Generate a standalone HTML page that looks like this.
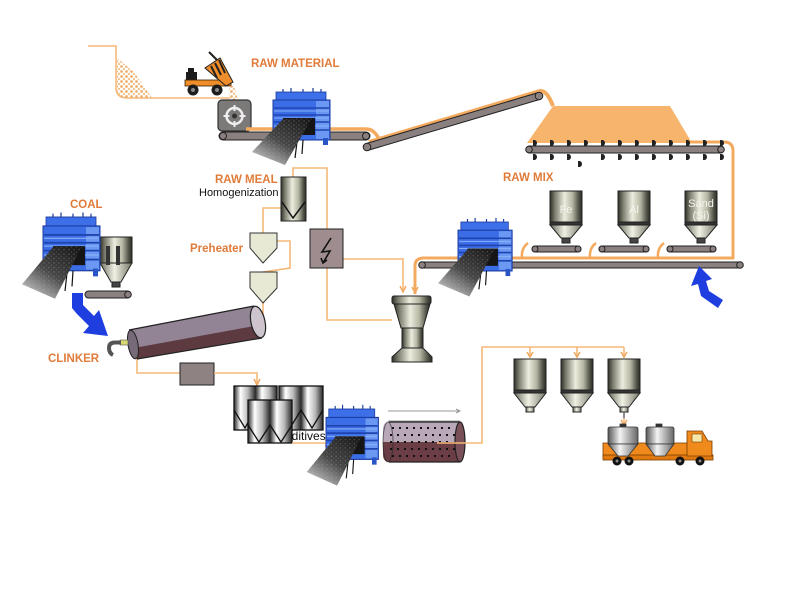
<!DOCTYPE html>
<html><head><meta charset="utf-8"><style>
html,body{margin:0;padding:0;background:#fff;}
svg{display:block;}
text{font-family:"Liberation Sans",Arial,sans-serif;}
.lbl{font-weight:bold;fill:#e07b39;font-size:11.5px;}
.ol{fill:none;stroke:#f6b878;stroke-width:1.6;}
.ar{fill:none;stroke:#f0a860;stroke-width:1.5;}
</style></head><body>
<svg width="800" height="600" viewBox="0 0 800 600" xmlns="http://www.w3.org/2000/svg">
<defs>
 <linearGradient id="metal" x1="0" x2="1" y1="0" y2="0">
  <stop offset="0" stop-color="#2e2f28"/>
  <stop offset="0.15" stop-color="#7a7b6c"/>
  <stop offset="0.45" stop-color="#ecedde"/>
  <stop offset="0.7" stop-color="#b5b6a3"/>
  <stop offset="0.9" stop-color="#505146"/>
  <stop offset="1" stop-color="#2a2b25"/>
 </linearGradient>
 <linearGradient id="cone" x1="0" x2="1">
  <stop offset="0" stop-color="#6a6b5e"/>
  <stop offset="0.45" stop-color="#f0f1e4"/>
  <stop offset="1" stop-color="#77786a"/>
 </linearGradient>
 <linearGradient id="metal2" x1="0" x2="0.5" y1="0" y2="0" spreadMethod="repeat">
  <stop offset="0" stop-color="#2a2a2a"/>
  <stop offset="0.3" stop-color="#ffffff"/>
  <stop offset="0.65" stop-color="#b8b8b8"/>
  <stop offset="1" stop-color="#2a2a2a"/>
 </linearGradient>
 <linearGradient id="tank" x1="0" x2="1">
  <stop offset="0" stop-color="#555"/>
  <stop offset="0.4" stop-color="#f4f4f4"/>
  <stop offset="1" stop-color="#666"/>
 </linearGradient>
 <linearGradient id="belt" x1="0.85" y1="0" x2="0.1" y2="1">
  <stop offset="0" stop-color="#1a1a1a"/>
  <stop offset="0.5" stop-color="#474747"/>
  <stop offset="1" stop-color="#d5d5d5"/>
 </linearGradient>
 <pattern id="speck" width="5" height="4" patternUnits="userSpaceOnUse">
  <circle cx="1" cy="1" r="0.7" fill="#aaa"/>
  <circle cx="3.5" cy="3" r="0.6" fill="#888"/>
 </pattern>
 <pattern id="sand" width="5" height="5" patternUnits="userSpaceOnUse">
  <circle cx="1.5" cy="1.5" r="1.4" fill="#eeb070"/>
  <circle cx="4" cy="4" r="1.2" fill="#f3c48e"/>
 </pattern>
 <g id="bm">
  <path d="M10,0 v-3 M18,0 v-4 M30,0 v-3 M40,0 v-4 M48,0 v-3" stroke="#1b3a9e" stroke-width="1.2"/>
  <rect x="3" y="0" width="50" height="9" fill="#3d6fe8" stroke="#1b3a9e" stroke-width="0.8"/>
  <rect x="0" y="8" width="57" height="40" fill="#3a6de6" stroke="#1b3a9e" stroke-width="1"/>
  <rect x="43" y="9" width="13" height="38" fill="#6a98f2"/>
  <path d="M1,16 H56 M1,23 H56 M1,30 H56 M1,38 H56" stroke="#1f44b0" stroke-width="1.6"/>
  <path d="M1,19 H56 M1,26 H56 M1,34 H56" stroke="#8aaff7" stroke-width="1"/>
  <rect x="10" y="26" width="32" height="17" fill="#151515"/>
  <rect x="0" y="46" width="4" height="7" fill="#2a55c8"/>
  <rect x="50" y="46" width="5" height="7" fill="#2a55c8"/>
  <path d="M24,50 l-2,16 M30,48 l-1,14" stroke="#111" stroke-width="1.2"/>
  <polygon points="10,27 39,26 12,73 -21,60" fill="url(#belt)"/>
  <polygon points="10,27 39,26 12,73 -21,60" fill="url(#speck)" opacity="0.4"/>
 </g>
</defs>

<!-- ===== RAW MATERIAL ===== -->
<path class="ol" d="M88,46 H116 V88 Q116,98 128,98 H230"/>
<polygon points="117,58 117,94 122,98 152,98 134,72" fill="url(#sand)"/>
<!-- truck -->
<rect x="186" y="72" width="11" height="9" fill="#1c1c1c"/>
<rect x="188" y="68" width="6" height="4" fill="#1c1c1c"/>
<rect x="185" y="80" width="46" height="6" fill="#ef8d2a" stroke="#3a2000" stroke-width="0.8"/>
<polygon points="205,68 220,58 233,82 226,86" fill="#ef8d2a" stroke="#222" stroke-width="1"/>
<path d="M211,66 l6,12 M215,63 l6,12 M219,60 l6,13" stroke="#222" stroke-width="2"/>
<path d="M209,52 L217,60" stroke="#222" stroke-width="2"/>
<circle cx="193" cy="90" r="5.5" fill="#1c1c1c"/><circle cx="193" cy="90" r="2" fill="#888"/>
<circle cx="217" cy="90" r="5.5" fill="#1c1c1c"/><circle cx="217" cy="90" r="2" fill="#888"/>
<polygon points="229,86 234,86 238,100 230,100" fill="url(#sand)"/>
<!-- crusher -->
<rect x="218" y="100" width="33" height="31" rx="4" fill="#7c7979" stroke="#333" stroke-width="1.2"/>
<circle cx="234.5" cy="116" r="8" fill="none" stroke="#eee" stroke-width="2.5"/>
<path d="M234.5,105 v6 M234.5,121 v6 M223.5,116 h6 M239.5,116 h6" stroke="#eee" stroke-width="2"/>
<circle cx="234.5" cy="116" r="2.5" fill="#333"/>
<!-- conveyor 1 -->
<path d="M246,129 H366 Q374,129 379,139" stroke="#f4aa5e" stroke-width="3.5" fill="none"/>
<rect x="219" y="132" width="151" height="8" rx="4" fill="#8a8080" stroke="#222" stroke-width="1"/>
<circle cx="223" cy="136" r="3.5" fill="#8a8080" stroke="#222"/>
<circle cx="366" cy="136" r="3.5" fill="#8a8080" stroke="#222"/>
<use href="#bm" transform="translate(273,92)"/>
<text class="lbl" x="251" y="67">RAW MATERIAL</text>

<!-- inclined conveyor -->
<path d="M369,142 L540,91 Q547,90 553,106" stroke="#f4aa5e" stroke-width="4" fill="none"/>
<line x1="367" y1="147" x2="539" y2="96" stroke="#222" stroke-width="8" stroke-linecap="round"/>
<line x1="367" y1="147" x2="539" y2="96" stroke="#8a8080" stroke-width="6" stroke-linecap="round"/>
<circle cx="367" cy="147" r="3.8" fill="#8a8080" stroke="#222"/>
<circle cx="539" cy="96" r="3.8" fill="#8a8080" stroke="#222"/>

<!-- pile + reclaimer -->
<polygon points="553,106 670,106 692,143 527,143" fill="#f6b46c"/>
<path d="M688,142 H724 Q733,142 733,151 V259" stroke="#f4aa5e" stroke-width="3" fill="none"/>
<rect x="526" y="146" width="198" height="7" rx="3.5" fill="#8a8080" stroke="#222" stroke-width="1"/>
<circle cx="529" cy="149.5" r="3.3" fill="#8a8080" stroke="#222"/>
<circle cx="721" cy="149.5" r="3.3" fill="#8a8080" stroke="#222"/>
<g fill="#222">
 <path d="M533,140 h1.5 a2.5,3 0 0 1 0,6 h-1.5z M550,140 h1.5 a2.5,3 0 0 1 0,6 h-1.5z M567,140 h1.5 a2.5,3 0 0 1 0,6 h-1.5z M584,140 h1.5 a2.5,3 0 0 1 0,6 h-1.5z M601,140 h1.5 a2.5,3 0 0 1 0,6 h-1.5z M618,140 h1.5 a2.5,3 0 0 1 0,6 h-1.5z M635,140 h1.5 a2.5,3 0 0 1 0,6 h-1.5z M652,140 h1.5 a2.5,3 0 0 1 0,6 h-1.5z M669,140 h1.5 a2.5,3 0 0 1 0,6 h-1.5z M686,140 h1.5 a2.5,3 0 0 1 0,6 h-1.5z M703,140 h1.5 a2.5,3 0 0 1 0,6 h-1.5z M720,140 h1.5 a2.5,3 0 0 1 0,6 h-1.5z"/>
 <path d="M533,154 h1.5 a2.5,3 0 0 1 0,6 h-1.5z M550,154 h1.5 a2.5,3 0 0 1 0,6 h-1.5z M567,154 h1.5 a2.5,3 0 0 1 0,6 h-1.5z M578,161 h1.5 a2.5,3 0 0 1 0,6 h-1.5z M601,154 h1.5 a2.5,3 0 0 1 0,6 h-1.5z M618,154 h1.5 a2.5,3 0 0 1 0,6 h-1.5z M635,154 h1.5 a2.5,3 0 0 1 0,6 h-1.5z M652,154 h1.5 a2.5,3 0 0 1 0,6 h-1.5z M669,154 h1.5 a2.5,3 0 0 1 0,6 h-1.5z M686,154 h1.5 a2.5,3 0 0 1 0,6 h-1.5z M703,154 h1.5 a2.5,3 0 0 1 0,6 h-1.5z M720,154 h1.5 a2.5,3 0 0 1 0,6 h-1.5z"/>
</g>

<!-- ===== RAW MIX ===== -->
<text class="lbl" x="503" y="181">RAW MIX</text>
<g>
 <path d="M528,243 Q521,248 522,258 M596,243 Q589,248 590,258 M664,243 Q657,248 658,258" stroke="#f4aa5e" stroke-width="2.5" fill="none"/>
 <rect x="532" y="246" width="49" height="6" rx="3" fill="#8a8080" stroke="#222"/>
 <circle cx="535" cy="249" r="3" fill="#8a8080" stroke="#222"/><circle cx="578" cy="249" r="3" fill="#8a8080" stroke="#222"/>
 <rect x="599" y="246" width="50" height="6" rx="3" fill="#8a8080" stroke="#222"/>
 <circle cx="602" cy="249" r="3" fill="#8a8080" stroke="#222"/><circle cx="646" cy="249" r="3" fill="#8a8080" stroke="#222"/>
 <rect x="667" y="246" width="49" height="6" rx="3" fill="#8a8080" stroke="#222"/>
 <circle cx="670" cy="249" r="3" fill="#8a8080" stroke="#222"/><circle cx="713" cy="249" r="3" fill="#8a8080" stroke="#222"/>
</g>
<g stroke="#222" stroke-width="1">
 <rect x="550" y="191" width="32" height="34" fill="url(#metal)"/><rect x="550" y="222" width="32" height="3" fill="#333"/>
 <polygon points="550,225 582,225 571,238 561,238" fill="url(#cone)"/><rect x="562" y="238" width="8" height="5" fill="#444"/>
 <rect x="618" y="191" width="32" height="34" fill="url(#metal)"/><rect x="618" y="222" width="32" height="3" fill="#333"/>
 <polygon points="618,225 650,225 639,238 629,238" fill="url(#cone)"/><rect x="630" y="238" width="8" height="5" fill="#444"/>
 <rect x="685" y="191" width="32" height="34" fill="url(#metal)"/><rect x="685" y="222" width="32" height="3" fill="#333"/>
 <polygon points="685,225 717,225 706,238 696,238" fill="url(#cone)"/><rect x="697" y="238" width="8" height="5" fill="#444"/>
</g>
<g fill="#f4f4ee" font-size="11" text-anchor="middle">
 <text x="566" y="213">Fe</text>
 <text x="634" y="213">Al</text>
 <text x="701" y="207">Sand</text>
 <text x="701" y="219">(Si)</text>
</g>
<path d="M415,294 V266 Q415,258 424,258 H734" stroke="#f4aa5e" stroke-width="3" fill="none"/>
<rect x="419" y="262" width="324" height="6" rx="3" fill="#8a8080" stroke="#222"/>
<circle cx="422" cy="265" r="3.3" fill="#8a8080" stroke="#222"/>
<circle cx="740" cy="265" r="3.3" fill="#8a8080" stroke="#222"/>
<use href="#bm" transform="translate(458,222) scale(0.95,1.02)"/>
<polygon points="699,266 712,279 706,281 709,291 723,300 718,308 701,296 698,284 691,286" fill="#1e3ee0"/>

<!-- ===== RAW MEAL / PREHEATER ===== -->
<text class="lbl" x="215" y="183">RAW MEAL</text>
<text x="199" y="196" font-size="11" fill="#111">Homogenization</text>
<path class="ol" d="M293,177 V168 H327 V229"/>
<path class="ol" d="M327,268 V320 H392"/>
<path class="ol" d="M343,259 H403 V292"/>
<path class="ar" d="M400,286 L403,292 L406,286 M412,287 L415,293 L418,287"/>
<path class="ol" d="M281,208 H263 V233"/>
<path class="ol" d="M277,241 H290 V268 L263,272"/>
<path class="ol" d="M263,303 V318"/>
<rect x="281" y="177" width="25" height="44" fill="url(#metal)" stroke="#222"/>
<polyline points="282,202 293,218 305,202" fill="none" stroke="#111" stroke-width="1.5"/>
<rect x="310" y="229" width="33" height="39" fill="#9e8c8e" stroke="#222"/>
<path d="M331,238 L322,252 L330,251 L323,263 M321,258 L323,263 L327,260" fill="none" stroke="#111" stroke-width="1.6"/>
<path d="M250,233 H277 V248 L263,263 L250,248 Z" fill="#e8e9d5" stroke="#333"/>
<path d="M250,272 H277 V288 L263,303 L250,288 Z" fill="#e8e9d5" stroke="#333"/>
<text class="lbl" x="190" y="252">Preheater</text>

<!-- vertical mill -->
<g stroke="#222" stroke-width="1">
 <rect x="392" y="296" width="39" height="8" rx="2" fill="url(#metal)"/>
 <polygon points="394,304 430,304 423,328 401,328" fill="url(#metal)"/>
 <rect x="402" y="328" width="21" height="20" fill="url(#metal)"/>
 <polygon points="402,348 423,348 432,357 432,362 392,362 392,357" fill="url(#metal)"/>
</g>

<!-- ===== COAL ===== -->
<text class="lbl" x="70" y="208">COAL</text>
<rect x="85" y="291" width="46" height="7" rx="3.5" fill="#8a8080" stroke="#222"/>
<circle cx="128" cy="294.5" r="3.3" fill="#8a8080" stroke="#222"/>
<g stroke="#222" stroke-width="1">
 <rect x="100" y="237" width="32" height="26" fill="url(#metal)"/>
 <polygon points="100,263 132,263 121,282 111,282" fill="url(#cone)"/>
 <rect x="112" y="282" width="8" height="5" fill="#444"/>
</g>
<rect x="106" y="246" width="4" height="19" fill="#333"/>
<rect x="116" y="246" width="4" height="19" fill="#333"/>
<use href="#bm" transform="translate(43,217) scale(1,1.12)"/>
<polygon points="72,293 83,293 83,305 94,316 99,310 108,336 83,333 89,326 77,314 72,308" fill="#1e3ee0"/>

<!-- ===== KILN ===== -->
<path class="ol" d="M137,358 V373 H180"/>
<path d="M129,330 L254,306 L262,338 L137,359 Z" fill="#928494"/>
<path d="M134,348 L260,325 L262,338 L137,359 Z" fill="#5c3a40"/>
<ellipse cx="133" cy="344.5" rx="5" ry="14.5" transform="rotate(-10 133 344.5)" fill="#776a78" stroke="#222"/>
<path d="M129,330 L254,306 M137,359 L262,338" stroke="#222" stroke-width="1.2"/>
<ellipse cx="258" cy="322" rx="7" ry="16" transform="rotate(-12 258 322)" fill="#cdc4cd" stroke="#222" stroke-width="1.2"/>
<rect x="120" y="340" width="8" height="5" fill="#d8d870" stroke="#555" stroke-width="0.6"/>
<path d="M121,342.5 H115 Q109,342.5 109,348 Q109,353 113,355" fill="none" stroke="#555" stroke-width="4"/>
<text class="lbl" x="48" y="362">CLINKER</text>

<rect x="180" y="363" width="34" height="22" fill="#8e8283" stroke="#222"/>
<path class="ol" d="M214,373 H257 V385"/>
<path class="ar" d="M254,379 L257,385 L260,379"/>

<!-- additives silos -->
<g stroke="#111" stroke-width="1.3">
 <rect x="234" y="386" width="43" height="44" fill="url(#metal2)"/>
 <polyline points="234,410 245,428 255,410 266,428 277,410" fill="none"/>
 <rect x="279" y="386" width="44" height="44" fill="url(#metal2)"/>
 <polyline points="279,410 290,428 301,410 312,428 323,410" fill="none"/>
</g>
<text x="277" y="440" font-size="12" fill="#111">Additives</text>
<g stroke="#111" stroke-width="1.3">
 <rect x="248" y="400" width="44" height="43" fill="url(#metal2)"/>
 <polyline points="248,425 259,442 270,425 281,442 292,425" fill="none"/>
</g>
<path class="ol" d="M292,443 H330"/>
<path class="ar" d="M325,440 L330,443 L325,446"/>

<!-- ball mill -->
<path d="M388,411 H460 M388,421 H460" stroke="#999" stroke-width="1"/>
<path d="M456,409 L460,411 L456,413" stroke="#999" fill="none"/>
<path d="M389,422 H460 V442 H383 V430 Q383,422 389,422 Z" fill="#b8a8b8"/>
<path d="M383,442 H460 V462 H389 Q383,462 383,454 Z" fill="#6a3e44"/>
<path d="M389,422 H460 M389,462 H460" stroke="#222" stroke-width="1.2"/>
<ellipse cx="388" cy="442" rx="5" ry="20" fill="none" stroke="#222" stroke-width="1" opacity="0.6"/>
<ellipse cx="460" cy="442" rx="5" ry="20" fill="#7a5058" stroke="#222" stroke-width="1.2"/>
<g fill="#111">
 <path d="M392,427h2v2h-2z M399,427h2v2h-2z M406,427h2v2h-2z M413,427h2v2h-2z M420,427h2v2h-2z M427,427h2v2h-2z M434,427h2v2h-2z M441,427h2v2h-2z M448,427h2v2h-2z"/>
 <path d="M390,434h2v2h-2z M397,434h2v2h-2z M404,434h2v2h-2z M411,434h2v2h-2z M418,434h2v2h-2z M425,434h2v2h-2z M432,434h2v2h-2z M439,434h2v2h-2z M446,434h2v2h-2z M453,434h2v2h-2z"/>
 <path d="M390,441h2v2h-2z M397,441h2v2h-2z M404,441h2v2h-2z M411,441h2v2h-2z M418,441h2v2h-2z M425,441h2v2h-2z M432,441h2v2h-2z M439,441h2v2h-2z M446,441h2v2h-2z"/>
 <path d="M390,448h2v2h-2z M397,448h2v2h-2z M404,448h2v2h-2z M411,448h2v2h-2z M418,448h2v2h-2z M425,448h2v2h-2z M432,448h2v2h-2z M439,448h2v2h-2z M446,448h2v2h-2z M453,448h2v2h-2z"/>
 <path d="M392,455h2v2h-2z M399,455h2v2h-2z M406,455h2v2h-2z M413,455h2v2h-2z M420,455h2v2h-2z M427,455h2v2h-2z M434,455h2v2h-2z M441,455h2v2h-2z M448,455h2v2h-2z"/>
</g>
<use href="#bm" transform="translate(326,409) scale(0.92,1.05)"/>

<!-- ===== CEMENT SILOS ===== -->
<path class="ol" d="M437,443 H482 V347 H624"/>
<path class="ol" d="M530,347 V357 M577,347 V357 M624,347 V357"/>
<path class="ar" d="M527,352 L530,357 L533,352 M574,352 L577,357 L580,352 M621,352 L624,357 L627,352"/>
<g stroke="#222" stroke-width="1">
 <rect x="514" y="359" width="32" height="34" fill="url(#metal)"/><rect x="514" y="390" width="32" height="3" fill="#333"/>
 <polygon points="514,393 546,393 535,407 525,407" fill="url(#cone)"/><rect x="526" y="407" width="8" height="5" fill="url(#cone)"/>
 <rect x="561" y="359" width="32" height="34" fill="url(#metal)"/><rect x="561" y="390" width="32" height="3" fill="#333"/>
 <polygon points="561,393 593,393 582,407 572,407" fill="url(#cone)"/><rect x="573" y="407" width="8" height="5" fill="url(#cone)"/>
 <rect x="608" y="359" width="32" height="34" fill="url(#metal)"/><rect x="608" y="390" width="32" height="3" fill="#333"/>
 <polygon points="608,393 640,393 629,407 619,407" fill="url(#cone)"/><rect x="620" y="407" width="8" height="5" fill="url(#cone)"/>
</g>
<path d="M624,412 V418" stroke="#666" stroke-width="1.5"/>
<path class="ol" d="M624,418 V425"/>
<path class="ar" d="M621,420 L624,425 L627,420"/>

<!-- truck -->
<rect x="603" y="443" width="86" height="14" fill="#f08a1c" stroke="#7a3e00" stroke-width="0.8"/>
<rect x="603" y="455" width="110" height="5" fill="#e07a10" stroke="#7a3e00" stroke-width="0.8"/>
<path d="M687,431 H702 L708,441 H712 V456 H687 Z" fill="#f08a1c" stroke="#7a3e00" stroke-width="0.8"/>
<rect x="692" y="434" width="10" height="8" fill="#f6e6a8" stroke="#7a3e00" stroke-width="0.6"/>
<g stroke="#333" stroke-width="0.8">
 <rect x="620" y="424" width="6" height="3" fill="#333"/>
 <rect x="608" y="427" width="30" height="17" rx="2" fill="url(#tank)"/>
 <polygon points="608,444 638,444 628,456 618,456" fill="url(#tank)"/>
 <rect x="656" y="424" width="6" height="3" fill="#333"/>
 <rect x="646" y="427" width="28" height="17" rx="2" fill="url(#tank)"/>
 <polygon points="646,444 674,444 665,456 655,456" fill="url(#tank)"/>
</g>
<g fill="#111">
 <circle cx="617" cy="461" r="4.5"/><circle cx="629" cy="461" r="4.5"/>
 <circle cx="680" cy="461" r="4.5"/><circle cx="700" cy="461" r="4.5"/>
</g>
<g fill="#888">
 <circle cx="617" cy="461" r="1.5"/><circle cx="629" cy="461" r="1.5"/>
 <circle cx="680" cy="461" r="1.5"/><circle cx="700" cy="461" r="1.5"/>
</g>
</svg>
</body></html>
